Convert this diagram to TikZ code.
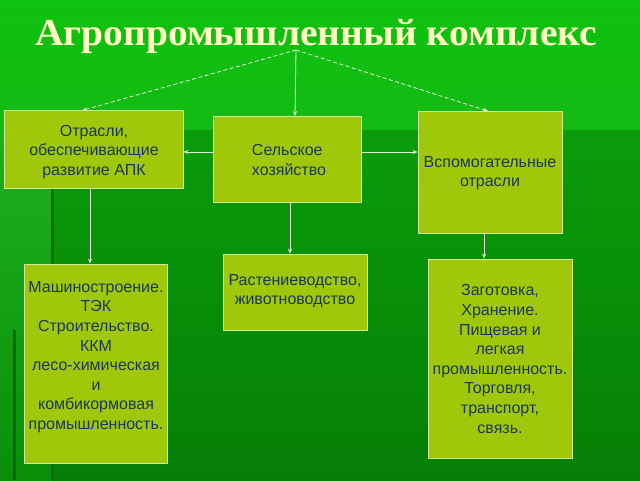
\documentclass[tikz,border=0pt]{standalone}
\usepackage{fontspec}
\setmainfont{Liberation Sans}
\newfontfamily\titlefont{Liberation Serif}
\usetikzlibrary{arrows.meta}
\definecolor{bgtopA}{HTML}{0FC20F}
\definecolor{bgtopB}{HTML}{14BA14}
\definecolor{bgmidA}{HTML}{0A9C0A}
\definecolor{bgmidB}{HTML}{067E06}
\definecolor{bgleftA}{HTML}{1CB21C}
\definecolor{bgleftB}{HTML}{0A8E0A}
\definecolor{stripe}{HTML}{0A6A0A}
\definecolor{boxfill}{HTML}{9FC80A}
\definecolor{boxline}{HTML}{D4EA9A}
\definecolor{boxtext}{HTML}{1C3858}
\definecolor{arrowcol}{HTML}{E6F2D6}
\definecolor{titlecol}{HTML}{FFFFC4}
\tikzset{
  panel/.style={draw=boxline, line width=0.8pt, fill=boxfill, inner sep=0pt},
  paneltext/.style={text=boxtext, font=\fontsize{16}{19.6}\selectfont, align=center, inner sep=0pt},
  link/.style={draw=arrowcol, line width=0.8pt, -{Stealth[length=5pt,width=4pt]}},
  dlink/.style={link, dash pattern=on 4pt off 2.5pt},
}
\begin{document}
\begin{tikzpicture}[x=1pt,y=-1pt]
\useasboundingbox (0,0) rectangle (640,480);
% background
\shade[top color=bgtopA, bottom color=bgtopB] (0,0) rectangle (640,130);
\shade[top color=bgmidA, bottom color=bgmidB] (0,130) rectangle (640,480);
\shade[top color=bgleftA, bottom color=bgleftB] (0,130) rectangle (52,480);
\fill[stripe] (51,188) rectangle (54,480);
\fill[stripe] (13,330) rectangle (16,480);
% title
\node[text=titlecol, font=\titlefont\bfseries\fontsize{38}{40}\selectfont, anchor=base, inner sep=0pt, xscale=1.04] (title) at (316,45) {Агропромышленный комплекс};
\coordinate (apex) at (296,50);
% boxes
\node[panel, minimum width=179pt, minimum height=78pt] (b1) at (93.5,149) {};
\node[panel, minimum width=148pt, minimum height=86pt] (b2) at (287,159) {};
\node[panel, minimum width=144pt, minimum height=122pt] (b3) at (490,172) {};
\node[panel, minimum width=143pt, minimum height=199pt] (b4) at (95.5,363.5) {};
\node[panel, minimum width=144pt, minimum height=76pt] (b5) at (295,292) {};
\node[panel, minimum width=144pt, minimum height=199pt] (b6) at (500,358.5) {};
% texts
\node[paneltext] (t1) at (94,152) {Отрасли,\\обеспечивающие\\развитие АПК};
\node[paneltext, align=left] (t2) at (289,160) {Сельское\\хозяйство};
\node[paneltext] (t3) at (490,173) {Вспомогательные\\отрасли};
\node[paneltext] (t4) at (96,357) {Машиностроение.\\ТЭК\\Строительство.\\ККМ\\лесо-химическая\\и\\комбикормовая\\промышленность.};
\node[paneltext] (t5) at (295,291) {Растениеводство,\\животноводство};
\node[paneltext] (t6) at (500,359) {Заготовка,\\Хранение.\\Пищевая и\\легкая\\промышленность.\\Торговля,\\транспорт,\\связь.};
% connectors
\draw[dlink] (apex) -- (82,110.5);
\draw[link] (apex) -- (295,116);
\draw[dlink] (apex) -- (488,111);
\draw[link] (b2.west |- 0,152) -- (b1.east |- 0,152);
\draw[link] (b2.east |- 0,152) -- (b3.west |- 0,152);
\draw[link] (90,188) -- (b4.north -| 90,0);
\draw[link] (290,202) -- (b5.north -| 290,0);
\draw[link] (484,233) -- (b6.north -| 484,0);
\end{tikzpicture}
\end{document}
